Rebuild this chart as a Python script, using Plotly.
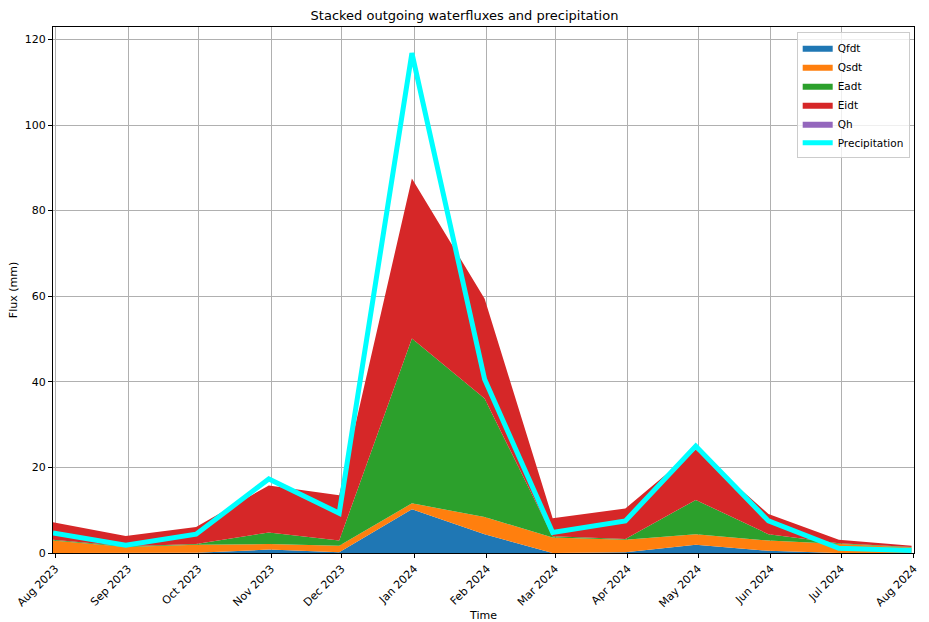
import plotly.graph_objects as go

# Monthly totals (mm), sampled at month end
dates = ["2023-07-31", "2023-08-31", "2023-09-30", "2023-10-31", "2023-11-30",
         "2023-12-31", "2024-01-31", "2024-02-29", "2024-03-31", "2024-04-30",
         "2024-05-31", "2024-06-30", "2024-07-31"]

qfdt = [0.0, 0.0, 0.05, 0.8, 0.2, 10.2, 4.4, 0.0, 0.2, 1.9, 0.5, 0.0, 0.0]
qsdt = [2.9, 1.4, 1.85, 1.3, 1.5, 1.4, 4.0, 3.6, 2.9, 2.5, 2.4, 2.1, 1.3]
eadt = [0.2, 0.2, 0.2, 2.7, 1.2, 38.5, 27.7, 0.3, 0.2, 8.0, 1.5, 0.2, 0.1]
eidt = [4.1, 2.4, 4.0, 11.0, 10.6, 37.4, 23.3, 4.2, 7.1, 11.8, 4.7, 0.8, 0.3]
qh = [0.0] * 13
precipitation = [4.7, 1.8, 4.4, 17.3, 9.3, 116.8, 40.6, 4.8, 7.5, 25.0, 7.5, 1.1, 0.6]

series = [
    ("Qfdt", qfdt, "#1f77b4"),
    ("Qsdt", qsdt, "#ff7f0e"),
    ("Eadt", eadt, "#2ca02c"),
    ("Eidt", eidt, "#d62728"),
    ("Qh", qh, "#9467bd"),
]

FONT = "DejaVu Sans"

fig = go.Figure()
for name, vals, color in series:
    fig.add_trace(go.Scatter(
        x=dates, y=vals, name=name, mode="lines",
        stackgroup="flux", line=dict(width=0, color=color),
        fillcolor=color,
    ))

fig.add_trace(go.Scatter(
    x=dates, y=precipitation, name="Precipitation", mode="lines",
    line=dict(color="#00ffff", width=5),
))

axis_common = dict(
    showline=True, linecolor="black", linewidth=1, mirror=True,
    ticks="outside", ticklen=4, tickcolor="black",
    showgrid=True, gridcolor="#b0b0b0", gridwidth=0.8,
    zeroline=False, automargin=False,
    tickfont=dict(family=FONT, size=11, color="black"),
)

fig.update_layout(
    width=929, height=622,
    template="none",
    paper_bgcolor="white", plot_bgcolor="white",
    margin=dict(l=53, r=15, t=27, b=69),
    font=dict(family=FONT, size=11, color="black"),
    title=dict(text="Stacked outgoing waterfluxes and precipitation",
               x=0.5, xanchor="center", y=0.975, yanchor="middle",
               font=dict(family=FONT, size=13, color="black")),
    xaxis=dict(
        axis_common,
        type="date",
        range=["2023-07-31", "2024-08-01 01:00"],
        tick0="2023-08-01", dtick="M1", tickformat="%b %Y",
        tickangle=-45,
        title=dict(text="Time", font=dict(family=FONT, size=11), standoff=8),
    ),
    yaxis=dict(
        axis_common,
        range=[0, 122.9],
        tick0=0, dtick=20,
        title=dict(text="Flux (mm)", font=dict(family=FONT, size=11), standoff=4),
    ),
    legend=dict(
        x=0.995, y=0.99, xanchor="right", yanchor="top",
        bgcolor="rgba(255,255,255,0.8)", bordercolor="#cccccc", borderwidth=1,
        traceorder="normal", tracegroupgap=0,
        font=dict(family=FONT, size=10.5, color="black"),
    ),
    showlegend=True,
)

fig.write_html("out.html")
